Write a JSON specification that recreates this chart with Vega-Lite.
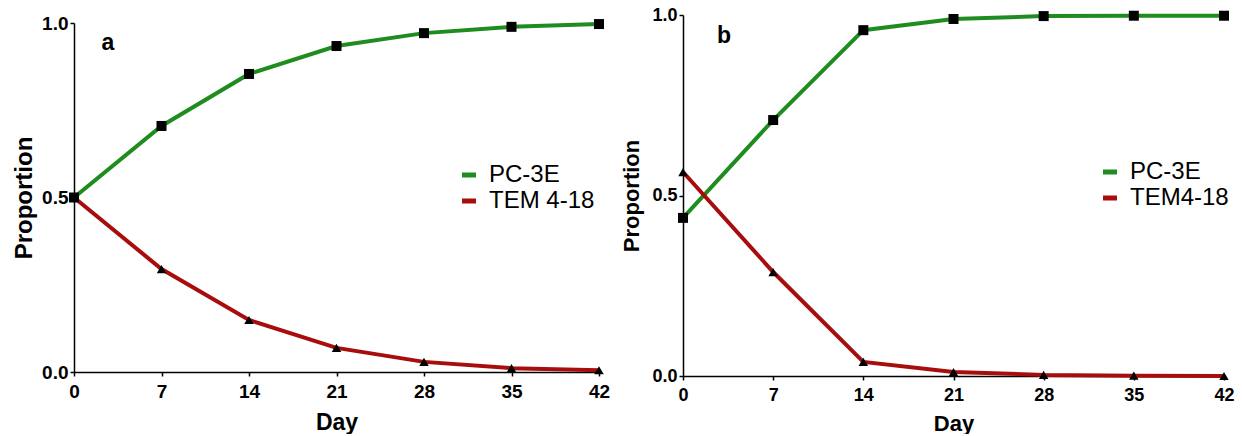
{
  "$schema": "https://vega.github.io/schema/vega-lite/v6.json",
  "padding": {"left": 12, "top": 6, "right": 0, "bottom": 0},
  "spacing": 10,
  "resolve": {
    "scale": {"color": "independent", "x": "independent", "y": "independent"},
    "legend": {"color": "independent"}
  },
  "config": {
    "view": {"stroke": null},
    "font": "Liberation Sans",
    "axis": {
      "domainColor": "#000000",
      "domainWidth": 1.5,
      "tickColor": "#000000",
      "tickWidth": 1.5,
      "tickSize": 4,
      "grid": false,
      "labelFont": "Liberation Sans",
      "labelFontWeight": "bold",
      "labelColor": "#000000",
      "labelPadding": 2,
      "titleFont": "Liberation Sans",
      "titleFontWeight": "bold",
      "titleColor": "#000000"
    },
    "legend": {
      "labelFont": "Liberation Sans",
      "labelFontSize": 24,
      "labelColor": "#000000",
      "symbolType": "stroke",
      "symbolStrokeWidth": 5,
      "symbolSize": 196,
      "labelOffset": 8,
      "rowPadding": 2,
      "title": null
    }
  },
  "datasets": {
    "a": [
      {"day": 0, "series": "PC-3E", "value": 0.5},
      {"day": 7, "series": "PC-3E", "value": 0.705},
      {"day": 14, "series": "PC-3E", "value": 0.854},
      {"day": 21, "series": "PC-3E", "value": 0.934},
      {"day": 28, "series": "PC-3E", "value": 0.971},
      {"day": 35, "series": "PC-3E", "value": 0.989},
      {"day": 42, "series": "PC-3E", "value": 0.997},
      {"day": 0, "series": "TEM 4-18", "value": 0.5},
      {"day": 7, "series": "TEM 4-18", "value": 0.295},
      {"day": 14, "series": "TEM 4-18", "value": 0.149},
      {"day": 21, "series": "TEM 4-18", "value": 0.069},
      {"day": 28, "series": "TEM 4-18", "value": 0.029},
      {"day": 35, "series": "TEM 4-18", "value": 0.011},
      {"day": 42, "series": "TEM 4-18", "value": 0.005}
    ],
    "b": [
      {"day": 0, "series": "PC-3E", "value": 0.438},
      {"day": 7, "series": "PC-3E", "value": 0.709},
      {"day": 14, "series": "PC-3E", "value": 0.958},
      {"day": 21, "series": "PC-3E", "value": 0.989},
      {"day": 28, "series": "PC-3E", "value": 0.997},
      {"day": 35, "series": "PC-3E", "value": 0.998},
      {"day": 42, "series": "PC-3E", "value": 0.998},
      {"day": 0, "series": "TEM4-18", "value": 0.565},
      {"day": 7, "series": "TEM4-18", "value": 0.288},
      {"day": 14, "series": "TEM4-18", "value": 0.039},
      {"day": 21, "series": "TEM4-18", "value": 0.011},
      {"day": 28, "series": "TEM4-18", "value": 0.003},
      {"day": 35, "series": "TEM4-18", "value": 0.001},
      {"day": 42, "series": "TEM4-18", "value": 0.0}
    ]
  },
  "hconcat": [
    {
      "vconcat": [
        {
          "width": 525,
          "height": 1,
          "data": {"values": [{"spacer": 1}]},
          "mark": {"type": "rect", "opacity": 0}
        },
        {
          "width": 525,
          "height": 349,
          "data": {"name": "a"},
          "encoding": {
            "x": {
              "field": "day", "type": "quantitative",
              "scale": {"domain": [0, 42], "nice": false, "zero": false},
              "axis": {"values": [0, 7, 14, 21, 28, 35, 42], "title": "Day", "labelFontSize": 19, "labelPadding": 6, "titleFontSize": 23, "titlePadding": 10, "labelFlush": false}
            },
            "y": {
              "field": "value", "type": "quantitative",
              "scale": {"domain": [0, 1], "nice": false},
              "axis": {"values": [0, 0.5, 1], "format": ".1f", "title": "Proportion", "labelFontSize": 19, "titleFontSize": 24, "titlePadding": 5, "labelFlush": false}
            }
          },
          "layer": [
            {
              "mark": {"type": "line", "strokeWidth": 4},
              "encoding": {
                "color": {
                  "field": "series", "type": "nominal",
                  "scale": {"domain": ["PC-3E", "TEM 4-18"], "range": ["#1f8c1f", "#a80d0d"]},
                  "legend": {"orient": "none", "legendX": 383, "legendY": 148, "symbolType": "stroke"}
                }
              }
            },
            {
              "transform": [{"filter": "datum.series === 'PC-3E'"}],
              "mark": {"type": "point", "shape": "square", "filled": true, "opacity": 1, "color": "#000000", "size": 100}
            },
            {
              "transform": [{"filter": "datum.series === 'TEM 4-18'"}],
              "mark": {"type": "point", "shape": "triangle-up", "filled": true, "opacity": 1, "color": "#000000", "size": 90}
            },
            {
              "transform": [{"filter": "datum.series === 'PC-3E' && datum.day === 0"}],
              "mark": {"type": "text", "text": "a", "fontSize": 23, "fontWeight": "bold", "color": "#000000", "baseline": "middle", "align": "center"},
              "encoding": {
                "x": {"datum": 2.72},
                "y": {"datum": 0.943}
              }
            }
          ]
        }
      ],
      "spacing": -2
    },
    {
      "width": 541,
      "height": 361,
      "data": {"name": "b"},
      "encoding": {
        "x": {
          "field": "day", "type": "quantitative",
          "scale": {"domain": [0, 42], "nice": false, "zero": false},
          "axis": {"values": [0, 7, 14, 21, 28, 35, 42], "title": "Day", "labelFontSize": 18, "labelPadding": 6, "titleFontSize": 22, "titlePadding": 9, "labelFlush": false}
        },
        "y": {
          "field": "value", "type": "quantitative",
          "scale": {"domain": [0, 1], "nice": false},
          "axis": {"values": [0, 0.5, 1], "format": ".1f", "title": "Proportion", "labelFontSize": 18, "titleFontSize": 22, "titlePadding": 8, "labelFlush": false}
        }
      },
      "layer": [
        {
          "mark": {"type": "line", "strokeWidth": 4},
          "encoding": {
            "color": {
              "field": "series", "type": "nominal",
              "scale": {"domain": ["PC-3E", "TEM4-18"], "range": ["#1f8c1f", "#a80d0d"]},
              "legend": {"orient": "none", "legendX": 415, "legendY": 145, "symbolType": "stroke"}
            }
          }
        },
        {
          "transform": [{"filter": "datum.series === 'PC-3E'"}],
          "mark": {"type": "point", "shape": "square", "filled": true, "opacity": 1, "color": "#000000", "size": 100}
        },
        {
          "transform": [{"filter": "datum.series === 'TEM4-18'"}],
          "mark": {"type": "point", "shape": "triangle-up", "filled": true, "opacity": 1, "color": "#000000", "size": 90}
        },
        {
          "transform": [{"filter": "datum.series === 'PC-3E' && datum.day === 0"}],
          "mark": {"type": "text", "text": "b", "fontSize": 23, "fontWeight": "bold", "color": "#000000", "baseline": "middle", "align": "center"},
          "encoding": {
            "x": {"datum": 3.18},
            "y": {"datum": 0.942}
          }
        }
      ]
    }
  ]
}
